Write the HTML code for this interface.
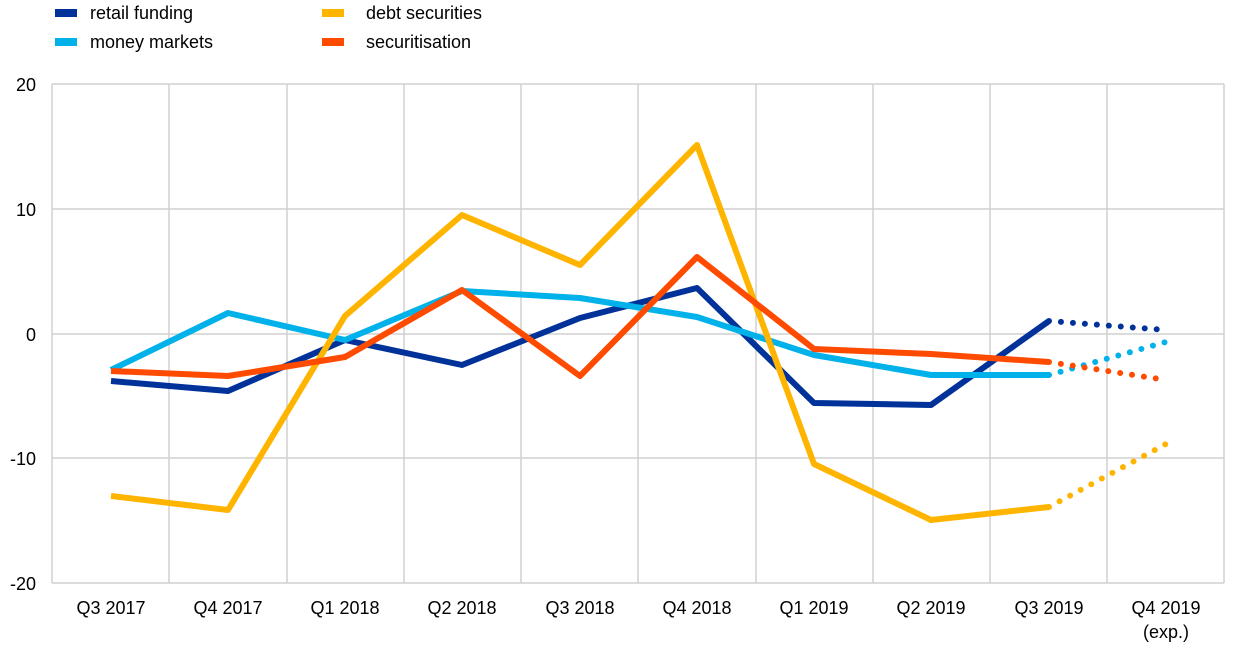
<!DOCTYPE html>
<html><head><meta charset="utf-8"><style>
html,body{margin:0;padding:0;background:#fff;}
svg{display:block;font-family:"Liberation Sans",Arial,sans-serif;}
</style></head><body>
<svg width="1240" height="648" viewBox="0 0 1240 648" xmlns="http://www.w3.org/2000/svg">
<g stroke="#d0d0d0" stroke-width="1.5" fill="none">
<line x1="52" y1="84" x2="1224" y2="84"/>
<line x1="52" y1="209" x2="1224" y2="209"/>
<line x1="52" y1="334" x2="1224" y2="334"/>
<line x1="52" y1="458" x2="1224" y2="458"/>
<line x1="52" y1="583" x2="1224" y2="583"/>
<line x1="52" y1="84" x2="52" y2="583"/>
<line x1="169" y1="84" x2="169" y2="583"/>
<line x1="287" y1="84" x2="287" y2="583"/>
<line x1="404" y1="84" x2="404" y2="583"/>
<line x1="521" y1="84" x2="521" y2="583"/>
<line x1="638" y1="84" x2="638" y2="583"/>
<line x1="756" y1="84" x2="756" y2="583"/>
<line x1="873" y1="84" x2="873" y2="583"/>
<line x1="990" y1="84" x2="990" y2="583"/>
<line x1="1107" y1="84" x2="1107" y2="583"/>
<line x1="1224" y1="84" x2="1224" y2="583"/>
</g>
<g font-size="18" fill="#000" text-anchor="end">
<text x="36" y="91">20</text>
<text x="36" y="216">10</text>
<text x="36" y="341">0</text>
<text x="36" y="465">-10</text>
<text x="36" y="590">-20</text>
</g>
<g font-size="18" fill="#000" text-anchor="middle">
<text x="111" y="614">Q3 2017</text>
<text x="228" y="614">Q4 2017</text>
<text x="345" y="614">Q1 2018</text>
<text x="462" y="614">Q2 2018</text>
<text x="580" y="614">Q3 2018</text>
<text x="697" y="614">Q4 2018</text>
<text x="814" y="614">Q1 2019</text>
<text x="931" y="614">Q2 2019</text>
<text x="1049" y="614">Q3 2019</text>
<text x="1166" y="614">Q4 2019</text>
<text x="1166" y="638">(exp.)</text>
</g>
<g fill="none" stroke-width="6" stroke-linejoin="round">
<polyline stroke="#003299" points="111,381 228,391 345,340 462,365 580,318 697,288 814,403 931,405 1049,321"/>
<polyline stroke="#00b1ea" points="111,370 228,313 345,340 462,291 580,298 697,317 814,355 931,375 1049,375"/>
<polyline stroke="#ffb400" points="111,496 228,510 345,316 462,215 580,265 697,145 814,464 931,520 1049,507"/>
<polyline stroke="#ff4b00" points="111,371 228,376 345,357 462,290 580,376 697,257 814,349 931,354 1049,362"/>
</g>
<g fill="none" stroke-width="6" stroke-linecap="round" stroke-dasharray="0 12">
<line stroke="#003299" x1="1049" y1="321" x2="1166" y2="330"/>
<line stroke="#00b1ea" x1="1049" y1="375" x2="1166" y2="342"/>
<line stroke="#ffb400" x1="1049" y1="507" x2="1166" y2="444"/>
<line stroke="#ff4b00" x1="1049" y1="362" x2="1166" y2="380"/>
</g>
<rect x="55" y="9" width="22" height="8" fill="#003299"/>
<text x="90" y="19" font-size="18">retail funding</text>
<rect x="55" y="38" width="22" height="8" fill="#00b1ea"/>
<text x="90" y="48" font-size="18">money markets</text>
<rect x="322" y="9" width="22" height="8" fill="#ffb400"/>
<text x="366" y="19" font-size="18">debt securities</text>
<rect x="322" y="38" width="22" height="8" fill="#ff4b00"/>
<text x="366" y="48" font-size="18">securitisation</text>
</svg>
</body></html>
